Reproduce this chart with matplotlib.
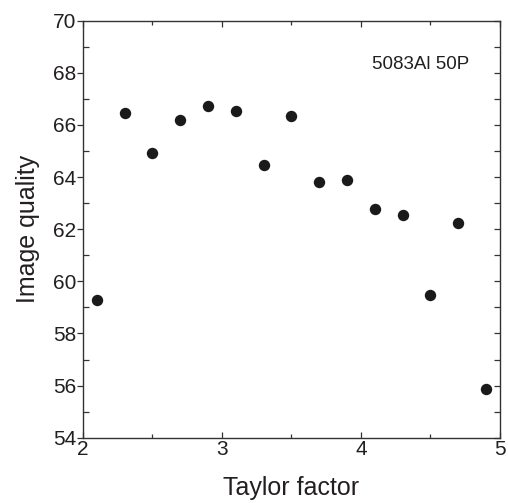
import matplotlib
matplotlib.use("Agg")
import matplotlib.pyplot as plt
from matplotlib.ticker import MultipleLocator

plt.rcParams['font.family'] = ['Liberation Sans', 'DejaVu Sans']

taylor_factor = [2.1, 2.3, 2.5, 2.7, 2.9, 3.1, 3.3, 3.5, 3.7, 3.9, 4.1, 4.3, 4.5, 4.7, 4.9]
image_quality = [59.28, 66.47, 64.93, 66.19, 66.73, 66.53, 64.47, 66.36, 63.8, 63.89,
                 62.76, 62.53, 59.47, 62.25, 55.87]
x_label = "Taylor factor"
y_label = "Image quality"
annotation = "5083Al 50P"

ink = '#231f20'

fig = plt.figure(figsize=(5.08, 5.03), dpi=100)
ax = fig.add_axes([0.1634, 0.1298, 0.8206, 0.829])
ax.plot(taylor_factor, image_quality, 'o', color='#1a1a1a', ms=8.2, mec='none')

ax.set_xlim(2, 5)
ax.set_ylim(54, 70)
ax.xaxis.set_major_locator(MultipleLocator(1))
ax.xaxis.set_minor_locator(MultipleLocator(0.5))
ax.yaxis.set_major_locator(MultipleLocator(2))
ax.yaxis.set_minor_locator(MultipleLocator(1))

for s in ax.spines.values():
    s.set_linewidth(1.0)
    s.set_color('#333333')

ax.tick_params(axis='x', which='major', direction='in', length=4.3, width=0.9,
               top=True, bottom=True, labelsize=15, labelcolor=ink, pad=2, color='#333333')
ax.tick_params(axis='x', which='minor', direction='in', length=2.6, width=0.9,
               top=True, bottom=True, color='#333333')
ax.tick_params(axis='y', which='major', direction='out', length=4.3, width=0.9,
               left=True, right=False, labelsize=15, labelcolor=ink, pad=0.5, color='#333333')
ax.tick_params(axis='y', which='minor', direction='in', length=4.3, width=0.9,
               left=True, right=False, color='#333333')

ax2 = ax.twinx()
ax2.set_ylim(54, 70)
ax2.yaxis.set_major_locator(MultipleLocator(1))
ax2.yaxis.set_minor_locator(MultipleLocator(1))
ax2.tick_params(axis='y', which='major', direction='in', length=4.3, width=0.9,
                labelright=False, color='#333333')
for s in ax2.spines.values():
    s.set_visible(False)

ax.set_xlabel(x_label, fontsize=18, color=ink, labelpad=12)
ax.set_ylabel(y_label, fontsize=18, color=ink, labelpad=9)

ax.text(4.08, 68.15, annotation, fontsize=13.5, color=ink, va='baseline', ha='left')

fig.savefig('out.png', dpi=100)
